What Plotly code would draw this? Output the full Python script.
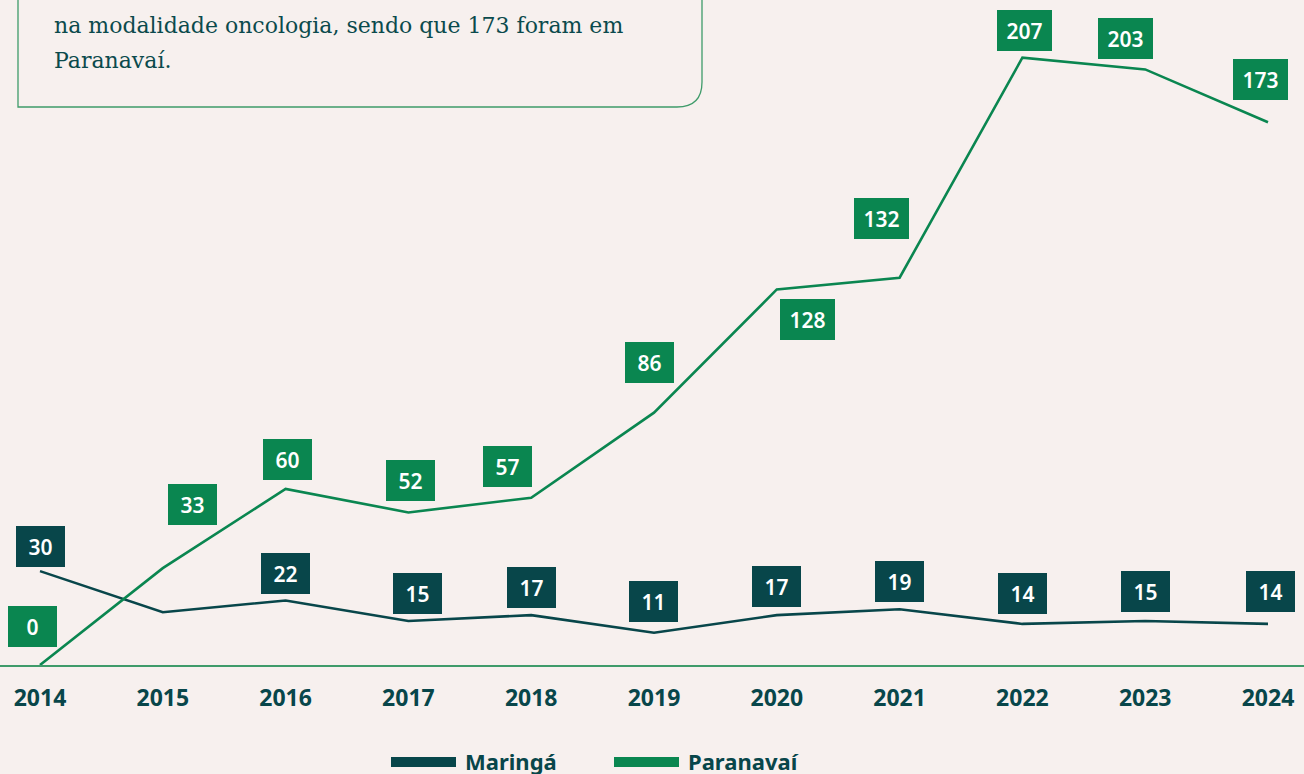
import plotly.graph_objects as go

# ---- data ----
years = [2014, 2015, 2016, 2017, 2018, 2019, 2020, 2021, 2022, 2023, 2024]
tick_labels = [str(y) for y in years]
maringa = [32, 18, 22, 15, 17, 11, 17, 19, 14, 15, 14]          # line values
maringa_labels = ["30", "", "22", "15", "17", "11", "17", "19", "14", "15", "14"]
paranavai = [0, 33, 60, 52, 57, 86, 128, 132, 207, 203, 185]    # line values
paranavai_labels = ["0", "33", "60", "52", "57", "86", "128", "132", "207", "203", "173"]
series_names = ["Maringá", "Paranavaí"]
text_lines = ["na modalidade oncologia, sendo que 173 foram em", "Paranavaí."]

# ---- style ----
BG = "#f7f0ee"
DARK = "#08464a"
GREEN = "#0a8650"
AXIS_GREEN = "#3f9b6a"
W, H = 1304, 774
PLOT_H = 665

# label offsets (pixels, x right / y up)
mar_shift = [(0, 25), None, (0, 27), (9, 27), (0, 28), (-1, 31), (0, 29), (0, 28), (0, 30), (0, 29), (2, 32)]
par_shift = [(-8, 39), (30, 64), (2, 29), (2, 32), (-24, 31), (-5, 50), (31, -30), (-18, 59), (2, 27), (-20, 31), (-8, 43)]

def px(xp):
    return xp / W

def py(yp):
    return (PLOT_H - yp) / PLOT_H

fig = go.Figure()
fig.add_trace(go.Scatter(x=years, y=maringa, mode="lines", name=series_names[0],
                         line=dict(color=DARK, width=2.6), cliponaxis=False,
                         showlegend=False, hoverinfo="skip"))
fig.add_trace(go.Scatter(x=years, y=paranavai, mode="lines", name=series_names[1],
                         line=dict(color=GREEN, width=2.6), cliponaxis=False,
                         showlegend=False, hoverinfo="skip"))

annotations = []
def add_labels(vals, labels, shifts, color):
    for x, v, t, s in zip(years, vals, labels, shifts):
        if not t or s is None:
            continue
        annotations.append(dict(
            x=x, y=v, xref="x", yref="y", text=t, showarrow=False,
            xshift=s[0], yshift=s[1],
            font=dict(family="Noto Sans", size=21, color="white", weight=600),
            bgcolor=color, bordercolor=color, borderwidth=1, borderpad=0,
            width=47 if len(t) < 3 else 53, height=39, align="center", valign="middle"))

add_labels(maringa, maringa_labels, mar_shift, DARK)
add_labels(paranavai, paranavai_labels, par_shift, GREEN)

# text box
for t, yy in zip(text_lines, [25, 60]):
    annotations.append(dict(x=px(52), y=py(yy), xref="paper", yref="paper", xanchor="left",
                            yanchor="middle", text=t, showarrow=False,
                            font=dict(family="DejaVu Serif", size=22, color="#0b4a4c")))

# legend (manual)
leg = [(391, 456, 463, DARK, series_names[0]), (614, 679, 686, GREEN, series_names[1])]
shapes = []
for x0, x1, tx, c, name in leg:
    shapes.append(dict(type="rect", xref="paper", yref="paper", x0=px(x0), x1=px(x1),
                       y0=py(767), y1=py(757), fillcolor=c, line=dict(width=0)))
    annotations.append(dict(x=px(tx), y=py(761), xref="paper", yref="paper", xanchor="left",
                            yanchor="middle", text=name, showarrow=False,
                            font=dict(family="Noto Sans", size=22, color=DARK, weight="bold")))

# rounded text box border
r = 25
path = (f"M {px(18)},{py(-5)} L {px(18)},{py(107)} L {px(702 - r)},{py(107)} "
        f"Q {px(702)},{py(107)} {px(702)},{py(107 - r)} L {px(702)},{py(-5)}")
shapes.append(dict(type="path", xref="paper", yref="paper", path=path,
                   line=dict(color=AXIS_GREEN, width=1.3)))

k = 122.8
x0 = 2014 - 40 / k
x1 = x0 + W / k
fig.update_layout(
    width=W, height=H, paper_bgcolor=BG, plot_bgcolor=BG,
    margin=dict(l=0, r=0, t=0, b=H - PLOT_H),
    xaxis=dict(range=[x0, x1], tickvals=years, ticktext=tick_labels, showgrid=False,
               zeroline=False, showline=True, linecolor=AXIS_GREEN, linewidth=1.5,
               ticks="", ticklabelstandoff=12,
               tickfont=dict(family="Noto Sans", size=23, color=DARK, weight="bold"),
               fixedrange=True),
    yaxis=dict(range=[0, PLOT_H / 2.934], visible=False, showgrid=False, zeroline=False,
               fixedrange=True),
    annotations=annotations, shapes=shapes, showlegend=False,
)
fig.write_html("out.html", config={"displayModeBar": False},
               post_script="document.body.style.margin='0';document.body.style.background='%s';" % BG)
